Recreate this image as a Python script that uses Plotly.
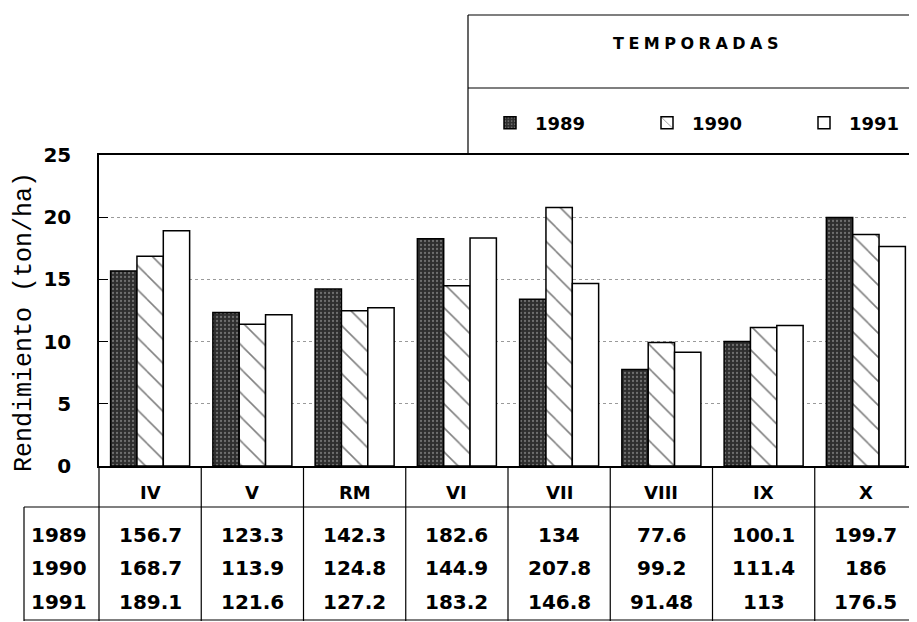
import plotly.graph_objects as go

categories = ["IV", "V", "RM", "VI", "VII", "VIII", "IX", "X"]
seasons = ["1989", "1990", "1991"]
prod_1989 = [156.7, 123.3, 142.3, 182.6, 134, 77.6, 100.1, 199.7]
prod_1990 = [168.7, 113.9, 124.8, 144.9, 207.8, 99.2, 111.4, 186]
prod_1991 = [189.1, 121.6, 127.2, 183.2, 146.8, 91.48, 113, 176.5]
y_ticks = [0, 5, 10, 15, 20, 25]
legend_title = "TEMPORADAS"
y_title = "Rendimiento (ton/ha)"

series = [prod_1989, prod_1990, prod_1991]

# page body adds an 8px offset; work in reference pixel coordinates
OFF = 8
W, H = 917 - OFF, 622 - OFF
L, T, B = 99, 155, 466
PW, PH = 917 - L, B - T


def px(x):
    return (x - L) / PW


def py(y):
    return (B - y) / PH


styles = [
    dict(color="#2e2e2e", pattern=dict(shape=".", bgcolor="#2e2e2e", fgcolor="#b0b0b0", size=4, solidity=0.25)),
    dict(color="white", pattern=dict(shape="\\", bgcolor="white", fgcolor="#000000", size=17, solidity=0.09)),
    dict(color="white"),
]

fig = go.Figure()
for name, vals, st in zip(seasons, series, styles):
    fig.add_trace(go.Bar(
        x=categories, y=[v / 10 for v in vals], name=name,
        marker=dict(line=dict(color="black", width=1.5), **st),
    ))

FONT = "DejaVu Sans"
ann = []


def text_ann(x, y, text, size, xref="paper", family=FONT, weight="bold", **kw):
    return dict(x=x, y=y, xref=xref, yref="paper", text=text, showarrow=False,
                xanchor="center", yanchor="middle",
                font=dict(family=family, size=size, color="black", weight=weight), **kw)


for c in categories:
    ann.append(text_ann(c, py(492), c, 18, xref="x"))
row_y = [535, 568, 602]
for name, vals, ry in zip(seasons, series, row_y):
    ann.append(text_ann(px(59), py(ry), name, 20))
    for c, v in zip(categories, vals):
        ann.append(text_ann(c, py(ry), f"{v:g}", 20, xref="x"))
ann.append(text_ann(px(698), py(43), f"<span style='letter-spacing:4.5px'>{legend_title}</span>", 16))
ann.append(text_ann(px(24), py(322), y_title, 25, family="Liberation Mono", weight="normal",
                    textangle=-90))

shapes = []
line = dict(color="black", width=1.2)
for i in range(len(categories) - 1):
    shapes.append(dict(type="line", xref="x", yref="paper", x0=i + 0.5, x1=i + 0.5,
                       y0=py(466), y1=py(621), line=line))
shapes += [
    dict(type="line", xref="paper", yref="paper", x0=0, x1=0, y0=py(466), y1=py(621), line=line),
    dict(type="line", xref="paper", yref="paper", x0=px(24), x1=px(24), y0=py(507), y1=py(621), line=line),
    dict(type="line", xref="paper", yref="paper", x0=px(24), x1=1, y0=py(507), y1=py(507), line=line),
    dict(type="line", xref="paper", yref="paper", x0=px(24), x1=1, y0=py(620), y1=py(620), line=line),
    dict(type="line", xref="paper", yref="paper", x0=px(468), x1=px(468), y0=py(15), y1=py(155), line=line),
    dict(type="line", xref="paper", yref="paper", x0=px(468), x1=1, y0=py(15), y1=py(15), line=line),
    dict(type="line", xref="paper", yref="paper", x0=px(468), x1=1, y0=py(88), y1=py(88), line=line),
]

fig.update_layout(
    width=W, height=H,
    margin=dict(l=L - OFF, r=0, t=T - OFF, b=622 - B, pad=0, autoexpand=False),
    paper_bgcolor="white", plot_bgcolor="white",
    barmode="group", bargap=0.227, bargroupgap=0,
    font=dict(family=FONT, color="black"),
    showlegend=True,
    legend=dict(orientation="h", x=px(485), y=py(123), xanchor="left", yanchor="middle",
                font=dict(family=FONT, size=18, color="black", weight="bold"), itemwidth=40,
                entrywidth=102, bgcolor="rgba(0,0,0,0)", traceorder="normal"),
    annotations=ann, shapes=shapes,
)
fig.update_xaxes(showticklabels=False, ticks="", showline=True, linecolor="black", linewidth=1.5,
                 mirror=True, showgrid=False)
fig.update_yaxes(range=[0, 25], tickvals=y_ticks, ticks="inside", ticklen=9, tickcolor="black",
                 showline=True, linecolor="black", linewidth=1.5, showgrid=True,
                 gridcolor="#9a9a9a", griddash="dot", gridwidth=1, zeroline=False,
                 tickfont=dict(family=FONT, size=20, color="black", weight="bold"),
                 ticklabelstandoff=22)

fig.write_html("out.html")
